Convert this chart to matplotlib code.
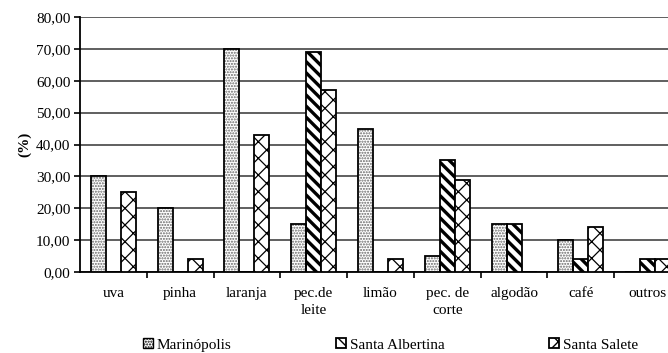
import matplotlib.pyplot as plt
import numpy as np
from matplotlib.ticker import FuncFormatter, FixedLocator

categories = ["uva", "pinha", "laranja", "pec.de\nleite", "limão",
              "pec. de\ncorte", "algodão", "café", "outros"]
marinopolis = [30, 20, 70, 15, 45, 5, 15, 10, 0]
santa_albertina = [0, 0, 0, 69, 0, 35, 15, 4, 4]
santa_salete = [25, 4, 43, 57, 4, 29, 0, 14, 4]
series_names = ["Marinópolis", "Santa Albertina", "Santa Salete"]

plt.rcParams['font.family'] = ['Liberation Serif', 'DejaVu Serif']
plt.rcParams['hatch.linewidth'] = 1.0


def hatch_lw(bars, lw):
    for b in bars:
        if hasattr(b, 'set_hatch_linewidth'):
            b.set_hatch_linewidth(lw)
        else:
            b._hatch_linewidth = lw


fig = plt.figure(figsize=(6.68, 3.53), dpi=100)
ax = fig.add_axes([80 / 668, 81 / 353, 601 / 668, 255 / 353])

x = np.arange(len(categories))
w = 0.225

# dotted bars: grey stipple, black outline drawn on top
b1 = ax.bar(x - w, marinopolis, w, color='white', edgecolor='#666666', hatch='......',
            linewidth=0, zorder=3)
hatch_lw(b1, 1.0)
ax.bar(x - w, marinopolis, w, fill=False, edgecolor='black', linewidth=1.3, zorder=4)

b2 = ax.bar(x, santa_albertina, w, color='white', edgecolor='black', hatch='\\\\\\',
            linewidth=1.3, zorder=3)
hatch_lw(b2, 2.4)

b3 = ax.bar(x + w, santa_salete, w, color='white', edgecolor='black', hatch='xx',
            linewidth=1.3, zorder=3)
hatch_lw(b3, 0.9)

ax.set_xlim(-0.5, len(categories) - 0.5)
ax.set_ylim(0, 80)
ax.set_yticks(np.arange(0, 81, 10))
ax.yaxis.set_major_formatter(FuncFormatter(lambda v, p: f"{v:.2f}".replace('.', ',')))
ax.yaxis.grid(True, color='#444444', linewidth=1.2, zorder=0)
ax.set_axisbelow(True)

ax.set_xticks(x)
ax.set_xticklabels(categories, fontsize=11, linespacing=1.35)
ax.xaxis.set_minor_locator(FixedLocator(np.arange(0.5, len(categories) - 0.5, 1)))
ax.tick_params(axis='x', which='major', length=0, pad=11)
ax.tick_params(axis='x', which='minor', length=4, width=1.2, direction='out')
ax.tick_params(axis='y', length=4, width=1.2, direction='out', labelsize=11, pad=3)

for side in ['top', 'right']:
    ax.spines[side].set_visible(False)
ax.spines['left'].set_linewidth(1.3)
ax.spines['bottom'].set_linewidth(1.3)

ax.set_ylabel("(%)", fontsize=11, fontweight='bold', labelpad=3)

h1 = plt.Rectangle((0, 0), 1, 1, facecolor='white', edgecolor='black', hatch='......')
hatch_lw([h1], 0.8)
fig.legend([h1, b2[3], b3[3]], series_names, loc='lower left',
           bbox_to_anchor=(135 / 668, -0.018),
           ncol=3, frameon=False, fontsize=11, handlelength=0.65, handleheight=0.65,
           handletextpad=0.25, columnspacing=6.85, borderpad=0)

fig.savefig("out.png", dpi=100)
